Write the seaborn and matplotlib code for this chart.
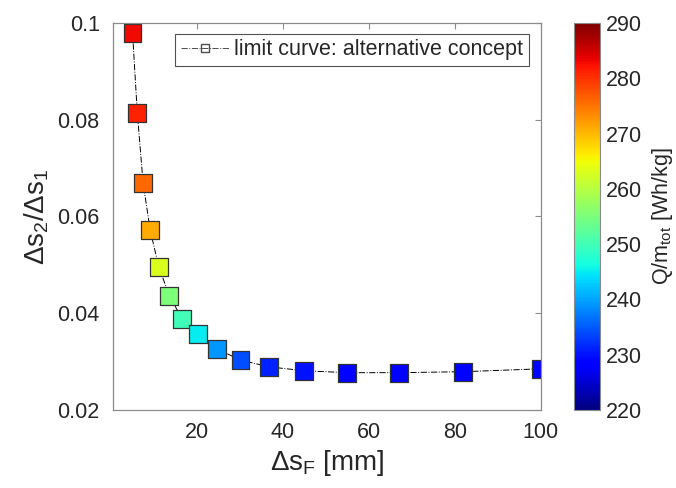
import numpy as np
import pandas as pd
import matplotlib
matplotlib.use('Agg')
import matplotlib.pyplot as plt
import seaborn as sns
from matplotlib.lines import Line2D

# data
ds_F = [4.98, 6.08, 7.43, 9.07, 11.08, 13.53, 16.53, 20.19, 24.66, 30.12,
        36.79, 44.93, 54.88, 67.03, 81.87, 100.0]
ds_ratio = [0.0979, 0.0814, 0.0669, 0.0572, 0.0496, 0.0436, 0.0388, 0.0357,
            0.0326, 0.0303, 0.0289, 0.0281, 0.0277, 0.0277, 0.0279, 0.0285]
q_m = [283, 281, 276, 271, 263, 255, 250, 245, 239, 234, 231, 230, 229,
       229, 229, 229]
cbar_ticks = [220, 230, 240, 250, 260, 270, 280, 290]

df = pd.DataFrame({'dsF': ds_F, 'ratio': ds_ratio, 'q': q_m})

sns.set_style('white')
plt.rcParams['font.family'] = ['Liberation Sans', 'DejaVu Sans']
plt.rcParams['mathtext.default'] = 'regular'

axis_col = '0.55'
text_col = '#262626'
jet = matplotlib.colormaps['jet']

fig = plt.figure(figsize=(6.76, 4.88), dpi=100)
ax = fig.add_axes([0.167, 0.160, 0.633, 0.793])
cax = fig.add_axes([0.849, 0.160, 0.039, 0.793])

sns.lineplot(data=df, x='dsF', y='ratio', ax=ax, color='black', lw=0.7,
             linestyle='-.', sort=False, zorder=1)
norm = plt.Normalize(220, 290)
sns.scatterplot(data=df, x='dsF', y='ratio', hue='q', palette=jet,
                hue_norm=norm, marker='s', s=165, edgecolor='#333333',
                linewidth=0.9, ax=ax, legend=False, zorder=2)

ax.set_xlim(0.4, 100)
ax.set_ylim(0.02, 0.1)
ax.set_xticks([20, 40, 60, 80, 100])
ax.set_yticks([0.02, 0.04, 0.06, 0.08, 0.1])
ax.set_yticklabels(['0.02', '0.04', '0.06', '0.08', '0.1'])
ax.tick_params(direction='in', length=4, width=0.8, color=axis_col,
               labelsize=15.5, labelcolor=text_col, top=True, right=True)
ax.tick_params(axis='y', pad=9.5)
ax.tick_params(axis='x', pad=9)
for sp in ax.spines.values():
    sp.set_color(axis_col)
    sp.set_linewidth(0.9)
ax.set_xlabel(r'$\Delta s_F$ [mm]', fontsize=20, color=text_col, labelpad=3)
ax.set_ylabel(r'$\Delta s_2/\Delta s_1$', fontsize=20, color=text_col,
              labelpad=5)

handle = Line2D([], [], color='0.3', lw=0.7, linestyle='-.', marker='s',
                markersize=6, markerfacecolor='none', markeredgecolor='0.3')
leg = ax.legend([handle], ['limit curve: alternative concept'],
                loc='upper right', bbox_to_anchor=(0.972, 0.972),
                fontsize=15.5, frameon=True, fancybox=False,
                handlelength=2.3, handletextpad=0.2, borderpad=0.25,
                borderaxespad=0)
leg.get_frame().set_edgecolor(text_col)
leg.get_frame().set_linewidth(0.8)

sm = plt.cm.ScalarMappable(norm=norm, cmap=jet)
cb = fig.colorbar(sm, cax=cax, ticks=cbar_ticks)
cb.outline.set_edgecolor(axis_col)
cb.ax.tick_params(direction='in', length=4, color=axis_col, labelsize=15.5,
                  labelcolor=text_col, pad=4)
cb.set_label(r'Q/m$_{tot}$ [Wh/kg]', fontsize=15.5, color=text_col,
             labelpad=6)

fig.savefig('out.png', dpi=100)
